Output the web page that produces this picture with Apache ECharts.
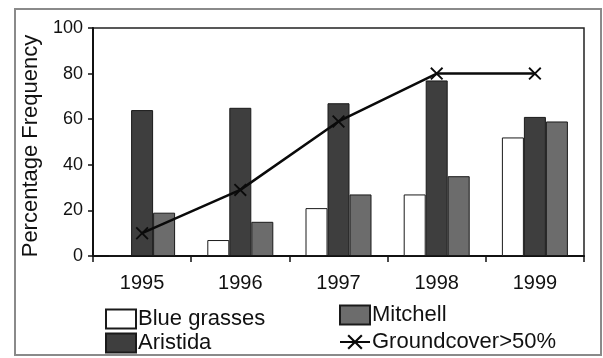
<!DOCTYPE html>
<html>
<head>
<meta charset="utf-8">
<script src="https://cdn.jsdelivr.net/npm/echarts@6/dist/echarts.min.js"></script>
<style>
  html, body { margin: 0; padding: 0; background: #fff; }
  #chart { width: 603px; height: 358px; }
</style>
</head>
<body>
<div id="chart"></div>
<script>
// Survey years and percentage frequencies per grass group
const years = ['1995', '1996', '1997', '1998', '1999'];
const blueGrasses = [0, 7, 21, 27, 52];
const aristida = [64, 65, 67, 77, 61];
const mitchell = [19, 15, 27, 35, 59];
const groundcover = [10, 29, 59, 80, 80];
const yTicks = [0, 20, 40, 60, 80, 100];

const font = '"Liberation Sans", Arial, sans-serif';
const crossMark = 'path://M0,1 L1,0 L5,4 L9,0 L10,1 L6,5 L10,9 L9,10 L5,6 L1,10 L0,9 L4,5 Z';

const chart = echarts.init(document.getElementById('chart'), null, { renderer: 'canvas' });

const barStyle = (fill) => ({ color: fill, borderColor: '#1a1a1a', borderWidth: 1 });

// one legend entry per box so the two-column key sits exactly where wanted
const legendEntry = (name, left, top, icon) => {
  const entry = {
    data: [name], left: left, top: top, padding: 0,
    itemWidth: 30, itemHeight: 19,
    textStyle: { fontFamily: font, fontSize: 22, color: '#111', lineHeight: 19, padding: [0, 0, 0, -3] }
  };
  if (icon) entry.icon = icon;
  return entry;
};

chart.setOption({
  animation: false,
  backgroundColor: '#ffffff',
  graphic: [{
    type: 'rect',
    shape: { x: 15, y: 9, width: 586, height: 346 },
    style: { fill: 'none', stroke: '#8a8a8a', lineWidth: 2 },
    silent: true
  }],
  grid: {
    left: 93, right: 19, top: 28, bottom: 102,
    show: true, borderColor: '#222', borderWidth: 1.5, backgroundColor: 'transparent'
  },
  legend: [
    legendEntry('Blue grasses', 105, 308, 'rect'),
    legendEntry('Aristida', 105, 332, 'rect'),
    legendEntry('Mitchell', 339, 304, 'rect'),
    legendEntry('Groundcover>50%', 339, 331)
  ],
  xAxis: {
    type: 'category', data: years, boundaryGap: true,
    axisLine: { lineStyle: { color: '#111', width: 2 } },
    axisTick: { show: true, length: 6, lineStyle: { color: '#111', width: 1.5 } },
    axisLabel: { fontFamily: font, fontSize: 20, color: '#111', margin: 17 }
  },
  yAxis: {
    type: 'value', min: yTicks[0], max: yTicks[yTicks.length - 1], interval: 20,
    name: 'Percentage Frequency', nameLocation: 'middle', nameGap: 50,
    nameTextStyle: { fontFamily: font, fontSize: 22, color: '#111', padding: [0, 0, 0, -8] },
    splitLine: { show: false },
    axisLine: { show: true, lineStyle: { color: '#111', width: 2 } },
    axisTick: { show: true, length: 5, lineStyle: { color: '#111', width: 1.5 } },
    axisLabel: { fontFamily: font, fontSize: 18, color: '#111', margin: 10 }
  },
  series: [
    { name: 'Blue grasses', type: 'bar', data: blueGrasses, barWidth: 22, barGap: '0%', itemStyle: barStyle('#ffffff') },
    { name: 'Aristida', type: 'bar', data: aristida, barWidth: 22, barGap: '0%', itemStyle: barStyle('#3e3e3e') },
    { name: 'Mitchell', type: 'bar', data: mitchell, barWidth: 22, barGap: '0%', itemStyle: barStyle('#6c6c6c') },
    {
      name: 'Groundcover>50%', type: 'line', data: groundcover, z: 5,
      symbol: crossMark, symbolSize: 13, showAllSymbol: true,
      lineStyle: { color: '#0a0a0a', width: 2.5 },
      itemStyle: { color: '#0a0a0a' }
    }
  ]
});
</script>
</body>
</html>
